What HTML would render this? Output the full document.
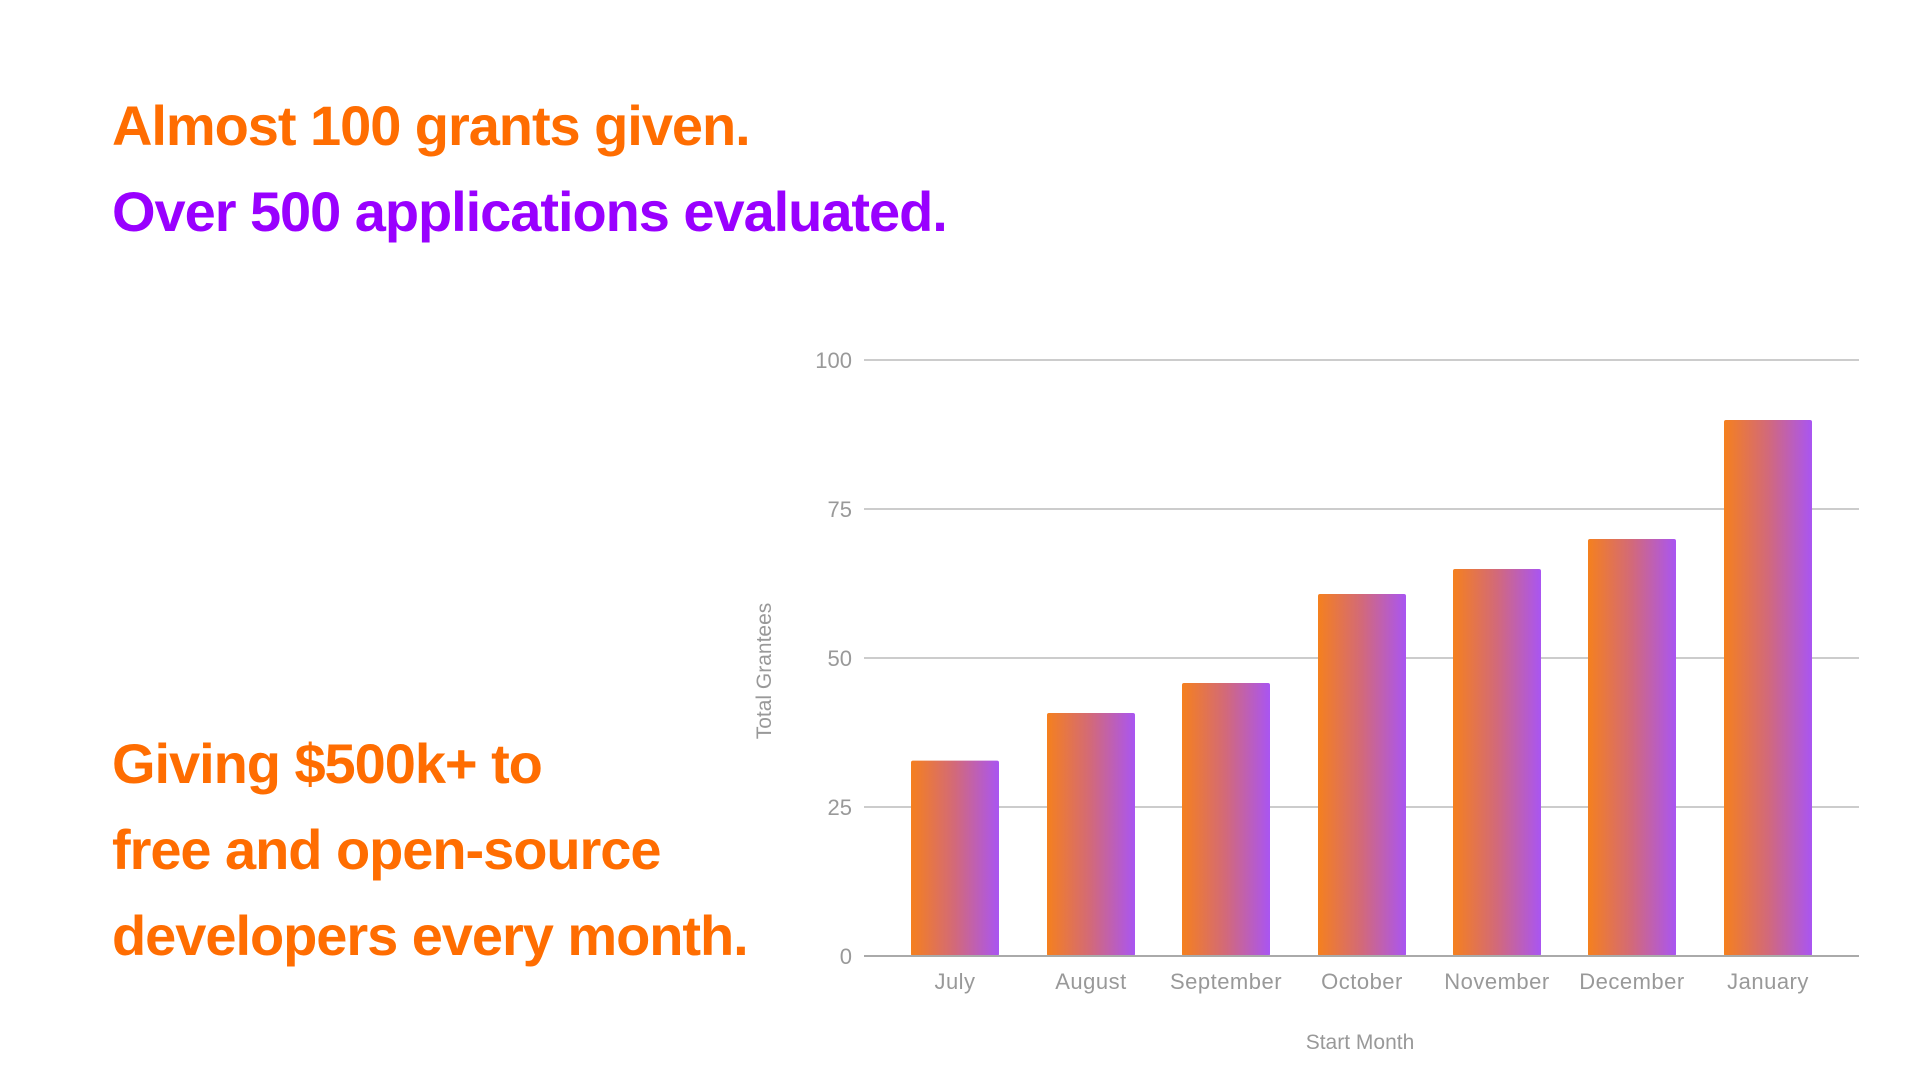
<!DOCTYPE html>
<html><head><meta charset="utf-8"><style>
html,body{margin:0;padding:0;background:#fff;}
body{width:1920px;height:1080px;position:relative;overflow:hidden;font-family:"Liberation Sans",Arial,sans-serif;}
.h{position:absolute;left:112px;font-weight:bold;font-size:56px;line-height:56px;letter-spacing:-1.05px;white-space:nowrap;}
.o{color:#ff6d01;}
.p{color:#9900ff;}
</style></head><body>
<div class="h o" style="top:98px">Almost 100 grants given.</div>
<div class="h p" style="top:184px">Over 500 applications evaluated.</div>
<div class="h o" style="top:736px">Giving $500k+ to</div>
<div class="h o" style="top:822px">free and open-source</div>
<div class="h o" style="top:908px">developers every month.</div>
<svg width="1920" height="1080" style="position:absolute;left:0;top:0" xmlns="http://www.w3.org/2000/svg">
<defs><linearGradient id="g" x1="0" x2="1" y1="0" y2="0">
<stop offset="0" stop-color="#f5801e"/><stop offset="0.5" stop-color="#d2697a"/><stop offset="1" stop-color="#a955f2"/></linearGradient></defs>
<g stroke="#cccccc" stroke-width="2">
<line x1="864" x2="1859" y1="360" y2="360"/>
<line x1="864" x2="1859" y1="509" y2="509"/>
<line x1="864" x2="1859" y1="658" y2="658"/>
<line x1="864" x2="1859" y1="807" y2="807"/>
</g>
<g font-family="Liberation Sans, Arial, sans-serif" font-size="22" fill="#999" text-anchor="end">
<text x="852" y="368">100</text><text x="852" y="517">75</text><text x="852" y="666">50</text><text x="852" y="815">25</text><text x="852" y="964">0</text>
</g>
<g fill="url(#g)">
<rect x="911" y="760.6" width="88" height="195.4" rx="2"/>
<rect x="1047" y="713" width="88" height="243" rx="2"/>
<rect x="1182" y="683" width="88" height="273" rx="2"/>
<rect x="1318" y="594" width="88" height="362" rx="2"/>
<rect x="1453" y="569" width="88" height="387" rx="2"/>
<rect x="1588" y="539" width="88" height="417" rx="2"/>
<rect x="1724" y="420" width="88" height="536" rx="2"/>
</g>
<line x1="864" x2="1859" y1="956" y2="956" stroke="#aaa" stroke-width="2"/>
<g font-family="Liberation Sans, Arial, sans-serif" font-size="22" fill="#999" text-anchor="middle" letter-spacing="0.5">
<text x="955" y="989">July</text><text x="1091" y="989">August</text><text x="1226" y="989">September</text>
<text x="1362" y="989">October</text><text x="1497" y="989">November</text><text x="1632" y="989">December</text><text x="1768" y="989">January</text>
</g>
<g font-family="Liberation Sans, Arial, sans-serif" font-size="21" fill="#999" text-anchor="middle">
<text x="1360" y="1049">Start Month</text>
<text transform="translate(771,671) rotate(-90)">Total Grantees</text>
</g>
</svg>
</body></html>
